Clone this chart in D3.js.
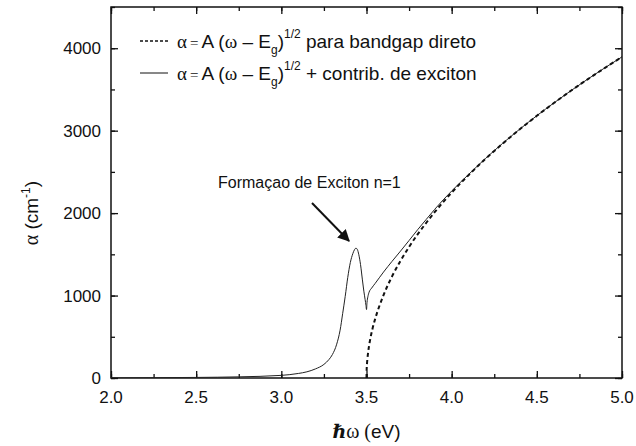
<!DOCTYPE html>
<html>
<head>
<meta charset="utf-8">
<script src="https://cdn.jsdelivr.net/npm/d3@7"></script>
<style>
    body { margin: 0; background: white; }
    svg { display: block; }
    text { font-family: "Liberation Sans", Arial, sans-serif; fill: #111; }
</style>
</head>
<body>
<svg id="chart" width="636" height="446"></svg>
<script>
// values (photon energy in eV, alpha in cm^-1)
const xTicks = [2.0, 2.5, 3.0, 3.5, 4.0, 4.5, 5.0];
const yTicks = [0, 1000, 2000, 3000, 4000];

const directEnergy = [3.5, 3.501, 3.503, 3.506, 3.51, 3.52, 3.535, 3.55, 3.575, 3.6, 3.65, 3.7, 3.75, 3.8,
    3.85, 3.9, 3.95, 4.0, 4.1, 4.2, 4.3, 4.4, 4.5, 4.6, 4.7, 4.8, 4.9, 5.0];
const directAlpha = [0, 100, 175, 245, 318, 450, 595, 711, 870, 1006, 1232, 1422, 1590, 1742,
    1880, 2011, 2133, 2249, 2463, 2661, 2844, 3017, 3180, 3335, 3484, 3626, 3762, 3895];

const excitonEnergy = [2.0, 2.25, 2.5, 2.75, 3.0, 3.1, 3.15, 3.2, 3.25, 3.28, 3.3, 3.325, 3.345, 3.36, 3.375, 3.39,
    3.405, 3.42, 3.43, 3.438, 3.446, 3.455, 3.465, 3.476, 3.485, 3.492, 3.497, 3.5, 3.503, 3.508,
    3.515, 3.53, 3.55, 3.6, 3.65, 3.7, 3.75, 3.8, 3.85, 3.9, 3.95, 4.0, 4.1, 4.2, 4.4, 4.6, 4.8, 5.0];
const excitonAlpha = [2, 4, 7, 14, 32, 55, 75, 110, 165, 225, 285, 410, 580, 780, 990, 1220,
    1400, 1510, 1558, 1575, 1560, 1495, 1375, 1190, 1045, 950, 880, 830, 915, 985,
    1040, 1090, 1145, 1285, 1415, 1540, 1668, 1798, 1922, 2045, 2160, 2268, 2470, 2665, 3019, 3336, 3627, 3895];

const SVG_WIDTH = 636;
const SVG_HEIGHT = 446;
const MARGIN = {top: 7, right: 14, bottom: 68, left: 111};
const PLOT_W = SVG_WIDTH - MARGIN.left - MARGIN.right;
const PLOT_H = SVG_HEIGHT - MARGIN.top - MARGIN.bottom;
const MAJOR = 7;
const MINOR = 4;

let svg = d3.select("#chart");

let x = d3.scaleLinear().domain([2.0, 5.0]).range([MARGIN.left, MARGIN.left + PLOT_W]);
let y = d3.scaleLinear().domain([0, 4500]).range([MARGIN.top + PLOT_H, MARGIN.top]);

svg.append("defs").append("clipPath")
    .attr("id", "plot-clip")
    .append("rect")
        .attr("x", MARGIN.left)
        .attr("y", MARGIN.top)
        .attr("width", PLOT_W)
        .attr("height", PLOT_H);

let xMinor = d3.range(2.0, 5.0001, 0.25);
let yMinor = d3.range(0, 4501, 500);

// inward ticks on all four sides, no labels on top / right
let addAxis = (axisFn, scale, ticks, size, tx, ty) => {
    let g = svg.append("g")
        .attr("transform", "translate(" + tx + "," + ty + ")")
        .call(axisFn(scale).tickValues(ticks).tickSize(size).tickSizeOuter(0).tickFormat(""));
    g.select(".domain").remove();
    g.selectAll("line").attr("stroke", "#111").attr("stroke-width", 1.3);
    return g;
};

let bottomY = MARGIN.top + PLOT_H;
let rightX = MARGIN.left + PLOT_W;

addAxis(d3.axisTop, x, xMinor, MINOR, 0, bottomY);
addAxis(d3.axisBottom, x, xMinor, MINOR, 0, MARGIN.top);
addAxis(d3.axisRight, y, yMinor, MINOR, MARGIN.left, 0);
addAxis(d3.axisLeft, y, yMinor, MINOR, rightX, 0);
addAxis(d3.axisTop, x, xTicks, MAJOR, 0, bottomY);
addAxis(d3.axisBottom, x, xTicks, MAJOR, 0, MARGIN.top);
addAxis(d3.axisRight, y, yTicks, MAJOR, MARGIN.left, 0);
addAxis(d3.axisLeft, y, yTicks, MAJOR, rightX, 0);

// tick labels
svg.append("g").selectAll("text")
    .data(xTicks)
    .enter()
    .append("text")
        .attr("x", d => x(d))
        .attr("y", bottomY + 25)
        .attr("text-anchor", "middle")
        .style("font-size", "17px")
        .text(d => d3.format(".1f")(d));

svg.append("g").selectAll("text")
    .data(yTicks)
    .enter()
    .append("text")
        .attr("x", MARGIN.left - 10)
        .attr("y", d => y(d) + 6)
        .attr("text-anchor", "end")
        .style("font-size", "17px")
        .text(d => d);

// frame
svg.append("rect")
    .attr("x", MARGIN.left)
    .attr("y", MARGIN.top)
    .attr("width", PLOT_W)
    .attr("height", PLOT_H)
    .attr("fill", "none")
    .attr("stroke", "#111")
    .attr("stroke-width", 1.5);

// curves
let line = d3.line()
    .x(d => x(d[0]))
    .y(d => y(d[1]))
    .curve(d3.curveMonotoneX);

let curves = svg.append("g").attr("clip-path", "url(#plot-clip)");

curves.append("path")
    .datum(d3.zip(excitonEnergy, excitonAlpha))
    .attr("d", line)
    .attr("fill", "none")
    .attr("stroke", "#222")
    .attr("stroke-width", 1);

curves.append("path")
    .datum(d3.zip(directEnergy, directAlpha))
    .attr("d", line)
    .attr("fill", "none")
    .attr("stroke", "#111")
    .attr("stroke-width", 2)
    .attr("stroke-dasharray", "4,3");

// legend
let legendRow = (yPos, dashed, tail) => {
    svg.append("line")
        .attr("x1", 140).attr("x2", 168)
        .attr("y1", yPos).attr("y2", yPos)
        .attr("stroke", "#111")
        .attr("stroke-width", dashed ? 1.6 : 1)
        .attr("stroke-dasharray", dashed ? "3,2" : null);

    let t = svg.append("text")
        .attr("x", 177)
        .attr("y", yPos + 7)
        .style("font-size", "19px");
    t.append("tspan").style("font-family", "'Liberation Serif', serif").style("font-size", "19px").text("\u03b1");
    t.append("tspan").style("font-family", "'Liberation Serif', serif").style("font-size", "15px").attr("dx", 3).text("=");
    t.append("tspan").attr("dx", 3).text("A (");
    t.append("tspan").style("font-family", "'Liberation Serif', serif").style("font-size", "19px").text("\u03c9");
    t.append("tspan").text(" \u2013 E");
    t.append("tspan").style("font-size", "12px").attr("dy", 6).text("g");
    t.append("tspan").attr("dy", -6).text(")");
    t.append("tspan").style("font-size", "12px").attr("dy", -10).text("1/2");
    t.append("tspan").attr("dy", 10).text(tail);
};

legendRow(41, true, " para bandgap direto");
legendRow(73, false, " + contrib. de exciton");

// annotation
svg.append("defs").append("marker")
    .attr("id", "arrow")
    .attr("viewBox", "0 0 10 10")
    .attr("refX", 9)
    .attr("refY", 5)
    .attr("markerWidth", 6)
    .attr("markerHeight", 6)
    .attr("orient", "auto")
    .append("path")
        .attr("d", "M0,0 L10,5 L0,10 Z")
        .attr("fill", "#111");

svg.append("text")
    .attr("x", 218)
    .attr("y", 188)
    .style("font-size", "16px")
    .text("Forma\u00e7ao de Exciton n=1");

svg.append("line")
    .attr("x1", 312).attr("y1", 203)
    .attr("x2", 349).attr("y2", 241)
    .attr("stroke", "#111")
    .attr("stroke-width", 2)
    .attr("marker-end", "url(#arrow)");

// axis titles
let xTitle = svg.append("text")
    .attr("x", x(3.5))
    .attr("y", 438)
    .attr("text-anchor", "middle")
    .style("font-size", "19px");
xTitle.append("tspan").style("font-family", "'DejaVu Serif', serif").style("font-style", "italic").style("font-weight", "bold").text("\u210f");
xTitle.append("tspan").style("font-family", "'Liberation Serif', serif").style("font-size", "20px").text("\u03c9 (");
xTitle.append("tspan").text("eV)");

let yTitle = svg.append("text")
    .attr("transform", "translate(38," + y(2000) + ") rotate(-90)")
    .attr("text-anchor", "middle")
    .style("font-size", "19px");
yTitle.append("tspan").style("font-family", "'Liberation Serif', serif").style("font-size", "20px").text("\u03b1");
yTitle.append("tspan").text(" (cm");
yTitle.append("tspan").style("font-size", "12px").attr("dy", -8).text("-1");
yTitle.append("tspan").attr("dy", 8).text(")");
</script>
</body>
</html>
